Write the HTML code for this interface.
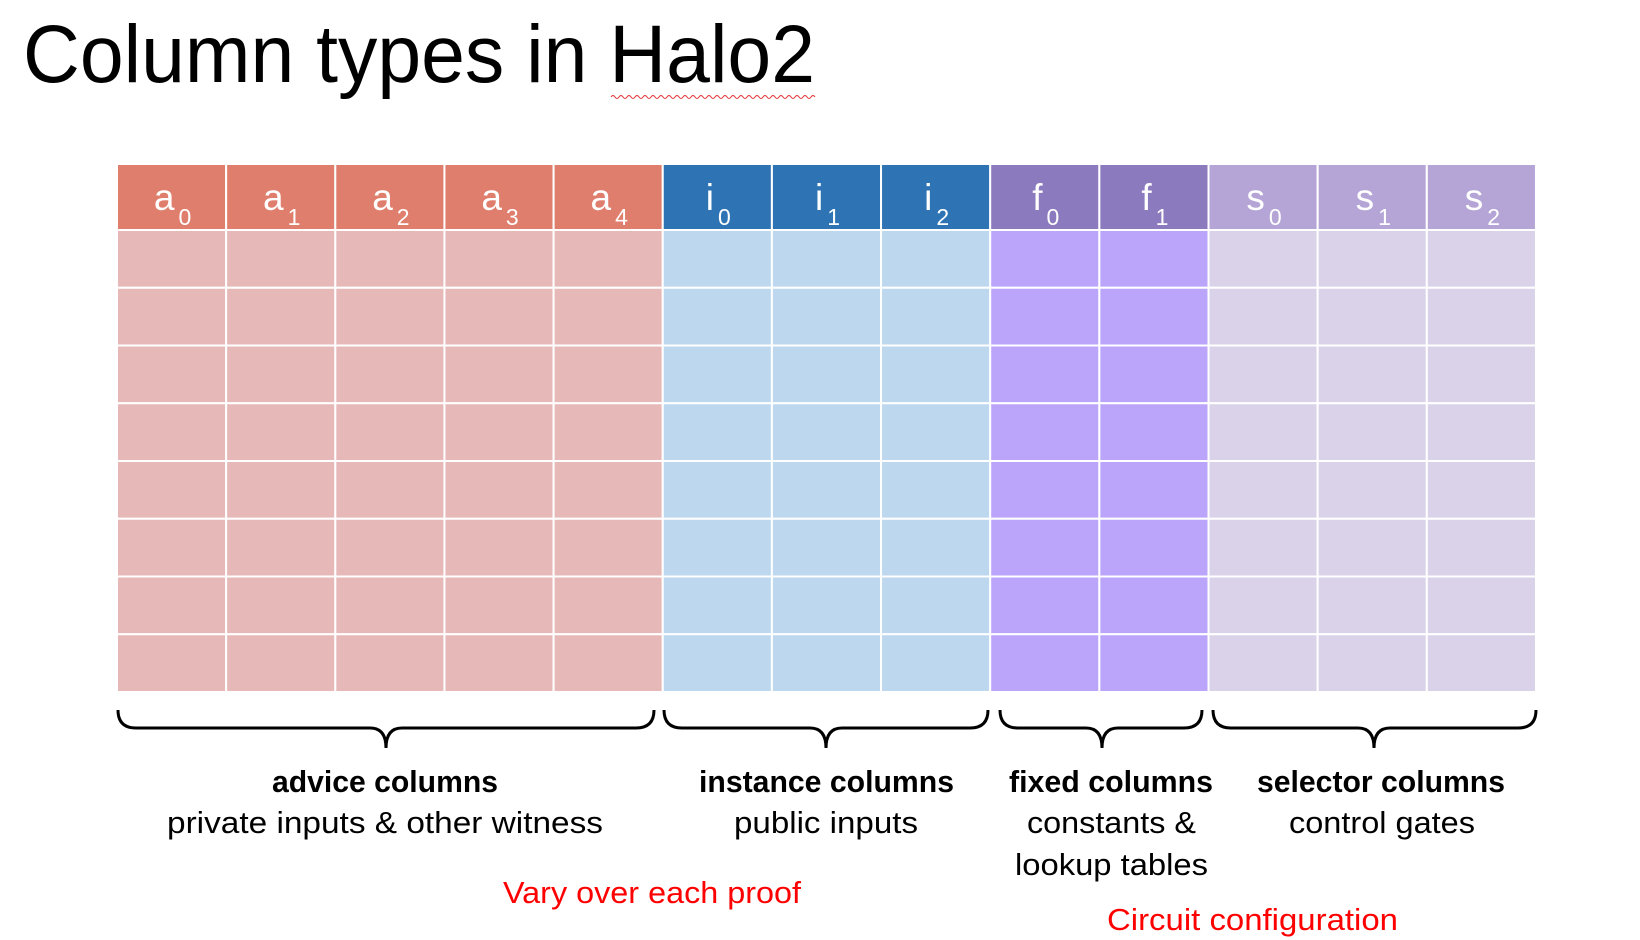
<!DOCTYPE html>
<html><head><meta charset="utf-8"><style>
html,body{margin:0;padding:0;background:#fff;}
svg{display:block;}
text{font-family:"Liberation Sans",sans-serif;}
</style></head><body>
<svg id="s" width="1640" height="940" viewBox="0 0 1640 940" xmlns="http://www.w3.org/2000/svg">
<text x="23" y="82" font-size="82" textLength="792" lengthAdjust="spacingAndGlyphs" fill="#000">Column types in Halo2</text>
<path d="M611 97 q2 -3 4 0 q2 3 4 0 q2 -3 4 0 q2 3 4 0 q2 -3 4 0 q2 3 4 0 q2 -3 4 0 q2 3 4 0 q2 -3 4 0 q2 3 4 0 q2 -3 4 0 q2 3 4 0 q2 -3 4 0 q2 3 4 0 q2 -3 4 0 q2 3 4 0 q2 -3 4 0 q2 3 4 0 q2 -3 4 0 q2 3 4 0 q2 -3 4 0 q2 3 4 0 q2 -3 4 0 q2 3 4 0 q2 -3 4 0 q2 3 4 0 q2 -3 4 0 q2 3 4 0 q2 -3 4 0 q2 3 4 0 q2 -3 4 0 q2 3 4 0 q2 -3 4 0 q2 3 4 0 q2 -3 4 0 q2 3 4 0 q2 -3 4 0 q2 3 4 0 q2 -3 4 0 q2 3 4 0 q2 -3 4 0 q2 3 4 0 q2 -3 4 0 q2 3 4 0 q2 -3 4 0 q2 3 4 0 q2 -3 4 0 q2 3 4 0 q2 -3 4 0 q2 3 4 0 q2 -3 4 0" fill="none" stroke="#e03030" stroke-width="1"/>
<g id="grid"></g>
<g fill="none" stroke="#000" stroke-width="3">
<path d="M118 710 q0 18 18 18 H370 q16 0 16 20 q0 -20 16 -20 H636 q18 0 18 -18"/>
<path d="M664 710 q0 18 18 18 H810 q16 0 16 20 q0 -20 16 -20 H970 q18 0 18 -18"/>
<path d="M1000 710 q0 18 18 18 H1086 q16 0 16 20 q0 -20 16 -20 H1184 q18 0 18 -18"/>
<path d="M1213 710 q0 18 18 18 H1358 q16 0 16 20 q0 -20 16 -20 H1518 q18 0 18 -18"/>
</g>
<g font-size="31" fill="#000">
<text x="272" y="792" textLength="226" lengthAdjust="spacingAndGlyphs" font-weight="bold">advice columns</text>
<text x="167" y="833" textLength="436" lengthAdjust="spacingAndGlyphs">private inputs &amp; other witness</text>
<text x="699" y="792" textLength="255" lengthAdjust="spacingAndGlyphs" font-weight="bold">instance columns</text>
<text x="734" y="833" textLength="184" lengthAdjust="spacingAndGlyphs">public inputs</text>
<text x="1009" y="792" textLength="204" lengthAdjust="spacingAndGlyphs" font-weight="bold">fixed columns</text>
<text x="1027" y="833" textLength="169" lengthAdjust="spacingAndGlyphs">constants &amp;</text>
<text x="1015" y="875" textLength="193" lengthAdjust="spacingAndGlyphs">lookup tables</text>
<text x="1257" y="792" textLength="248" lengthAdjust="spacingAndGlyphs" font-weight="bold">selector columns</text>
<text x="1289" y="833" textLength="186" lengthAdjust="spacingAndGlyphs">control gates</text>
<text x="503" y="903" textLength="298" lengthAdjust="spacingAndGlyphs" fill="#ff0000">Vary over each proof</text>
<text x="1107" y="930" textLength="291" lengthAdjust="spacingAndGlyphs" fill="#ff0000">Circuit configuration</text>
</g>
</svg>
<script>
const letters = ["a","a","a","a","a","i","i","i","f","f","s","s","s"];
const subs = ["0","1","2","3","4","0","1","2","0","1","0","1","2"];
const headColors = {a:"#DF7E6C",i:"#2E74B5",f:"#8C7ABE",s:"#B4A5D6"};
const bodyColors = {a:"#E6B9B8",i:"#BDD7EE",f:"#BBA5FB",s:"#D9D2E9"};
const rows = 8;
const ns="http://www.w3.org/2000/svg";
const g=document.getElementById('grid');
const x0=117,cw=109.15,y0=164,hh=66,rh=57.75;
letters.forEach((l,c)=>{
  const x=x0+c*cw;
  const h=document.createElementNS(ns,'rect');
  h.setAttribute('x',x);h.setAttribute('y',y0);h.setAttribute('width',cw);h.setAttribute('height',hh);
  h.setAttribute('fill',headColors[l]);h.setAttribute('stroke','#fff');h.setAttribute('stroke-width','2');
  
  
  g.appendChild(h);
  const t=document.createElementNS(ns,'text');
  t.setAttribute('x',x+cw/2+1);t.setAttribute('y',y0+46);t.setAttribute('fill','#fff');
  t.setAttribute('font-size','37');t.setAttribute('text-anchor','middle');
  t.textContent=l;
  const ts=document.createElementNS(ns,'tspan');
  ts.setAttribute('font-size','23');ts.setAttribute('dy','15');ts.setAttribute('dx','4');
  ts.textContent=subs[c];
  t.appendChild(ts);
  
  
  g.appendChild(t);
  for(let r=0;r<rows;r++){
    const b=document.createElementNS(ns,'rect');
    b.setAttribute('x',x);b.setAttribute('y',y0+hh+r*rh);b.setAttribute('width',cw);b.setAttribute('height',rh);
    b.setAttribute('fill',bodyColors[l]);b.setAttribute('stroke','#fff');b.setAttribute('stroke-width','2');
    
    
    g.appendChild(b);
  }
});
</script>
</body></html>
